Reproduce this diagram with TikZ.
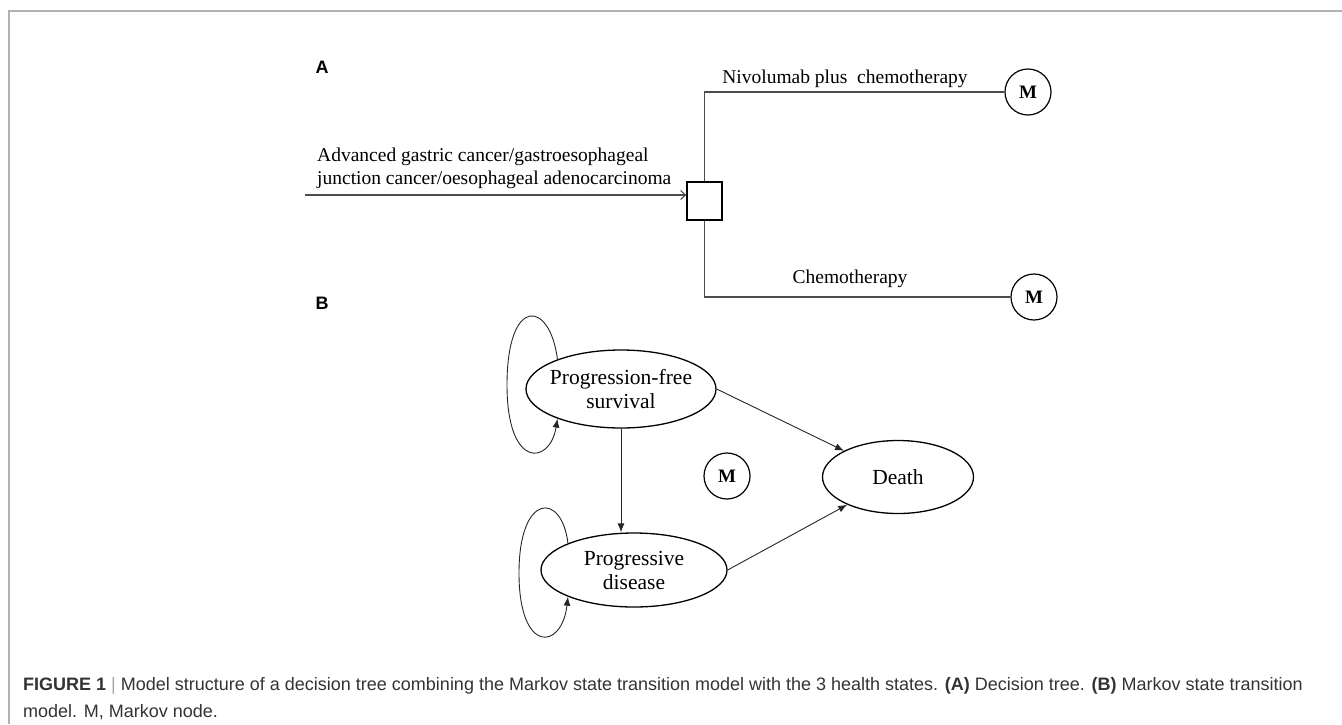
\documentclass[tikz,border=0pt]{standalone}
\usepackage{fontspec}
\setmainfont{Liberation Serif}
\newfontfamily\capfont{Liberation Sans}
\usetikzlibrary{arrows.meta,shapes.geometric}

\begin{document}
\begin{tikzpicture}[x=1pt,y=-1pt,
  treeline/.style={draw=black!70,line width=1.1pt},
  treetext/.style={inner sep=0pt,font=\fontsize{19.5}{23}\selectfont},
  markov/.style={circle,draw,line width=1.2pt,minimum size=46pt,inner sep=0pt,font=\fontsize{19}{22}\selectfont\bfseries},
  state/.style={ellipse,draw,line width=1.3pt,inner xsep=-8pt,inner ysep=0pt,align=center,font=\fontsize{21.5}{24}\selectfont},
  trans/.style={draw=black!85,line width=0.9pt,-{Latex[length=9pt,width=7pt]}},
  panel/.style={font=\capfont\fontsize{18}{18}\selectfont\bfseries}]
  \useasboundingbox (0,0) rectangle (1342,724);
  % frame
  \draw[black!30,line width=2pt] (1342,10.5) -- (9,10.5) -- (9,724);

  % (A) decision tree
  \node (la) at (322,73) [panel,anchor=base] {A};
  \node (dec) at (704.5,201) [rectangle,draw,line width=1.3pt,minimum width=35pt,minimum height=38pt,inner sep=0pt] {};
  \coordinate (start) at (305,195);
  \node (cohort) at (317,189) [treetext,anchor=south west,align=left]
    {Advanced gastric cancer/gastroesophageal\\junction cancer/oesophageal adenocarcinoma};
  \draw[treeline,-{Straight Barb[length=5pt,width=9pt]}] (start) -- (start -| dec.west);
  \node (ma) at (1028,92) [markov] {M};
  \node (mb) at (1034,297) [markov] {M};
  \draw[treeline] (dec.north) |- (ma.west);
  \draw[treeline] (dec.south) |- (mb.west);
  \node (nivo) at (845,83) [treetext,anchor=base] {Nivolumab plus\ \ chemotherapy};
  \node (chemo) at (850,283) [treetext,anchor=base] {Chemotherapy};

  % (B) Markov model
  \node (lb) at (322,309) [panel,anchor=base] {B};
  \node (pfs) at (621,389) [state,minimum width=190pt,minimum height=78pt] {Progression-free\\survival};
  \node (pd) at (634,570) [state,minimum width=186pt,minimum height=74pt] {Progressive\\disease};
  \node (death) at (898,477) [state,minimum width=151pt,minimum height=73pt] {Death};
  \node (mc) at (727,476) [markov] {M};
  \draw[trans] (pfs.south) -- (pfs.south |- pd.north);
  \draw[trans] (pfs.east) -- (death);
  \draw[trans] (pd.east) -- (death);
  \draw[trans] (pfs.155) .. controls (550,300) and (507,295) .. (507,385)
    .. controls (507,470) and (550,465) .. (pfs.205);
  \draw[trans] (pd.158) .. controls (562,492) and (519,492) .. (519,573)
    .. controls (519,655) and (562,650) .. (pd.202);

  % caption
  \node (cap) at (23,677) [anchor=north west,inner sep=0pt,align=left,text=black!80,
    font=\capfont\fontsize{18}{27}\selectfont]
    {{\bfseries FIGURE 1} {\color{black!35}|} Model structure of a decision tree combining the Markov state transition model with the 3 health states. {\bfseries (A)} Decision tree. {\bfseries (B)} Markov state transition\\model. M, Markov node.};
\end{tikzpicture}
\end{document}
